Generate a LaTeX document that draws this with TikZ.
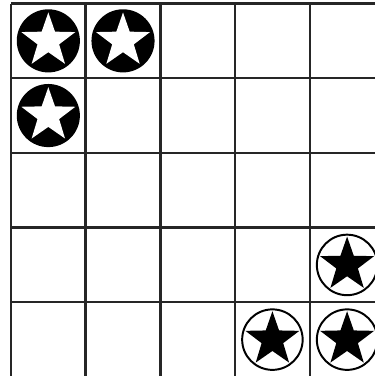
\documentclass[tikz,border=0pt]{standalone}
\usepackage{tikz}
\usetikzlibrary{shapes.geometric}

\begin{document}
\begin{tikzpicture}[x=2cm,y=2cm,
    darkcoin/.style={circle, fill=black, inner sep=0pt, outer sep=0pt, minimum size=1.69cm},
    lightcoin/.style={circle, draw=black, line width=1.5pt, fill=white, inner sep=0pt, outer sep=0pt, minimum size=1.62cm},
    whitestar/.style={star, star points=5, star point ratio=2.5, fill=white, inner sep=0pt, outer sep=0pt, minimum size=1.52cm},
    blackstar/.style={whitestar, fill=black}]
  % Frame
  \useasboundingbox (-0.147,0.013) rectangle (4.873,5.047);

  % Board
  \draw[line width=1.8pt, black!85, step=2cm] (0,0) grid (5,5);

  % Dark coins, top left
  \foreach \c/\r [count=\i] in {0/0,1/0,0/1} {
    \node[darkcoin] (dark\i) at (\c+0.5,4.5-\r) {};
    \node[whitestar] (wstar\i) at (dark\i) {};
  }

  % Light coins, bottom right
  \foreach \c/\r [count=\i] in {4/3,3/4,4/4} {
    \node[lightcoin] (light\i) at (\c+0.5,4.5-\r) {};
    \node[blackstar] (bstar\i) at (light\i) {};
  }
\end{tikzpicture}
\end{document}
